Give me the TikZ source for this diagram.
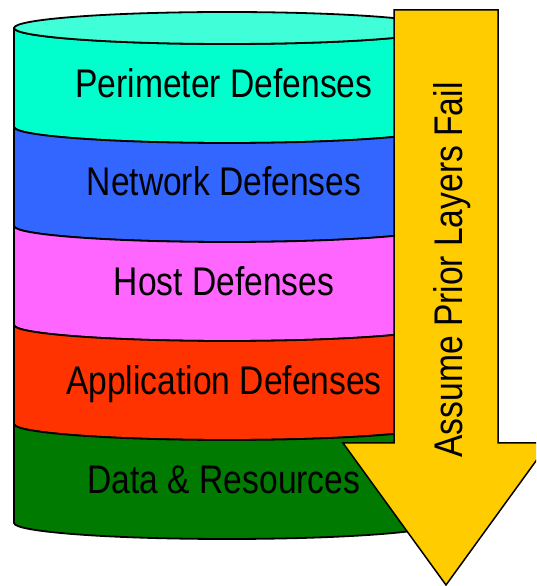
\documentclass[tikz,border=0pt]{standalone}
\usepackage{fontspec}
\setmainfont{Liberation Sans}[FakeStretch=0.84]
\definecolor{topcyan}{RGB}{64,255,216}
\definecolor{perimcyan}{RGB}{0,255,204}
\definecolor{netblue}{RGB}{51,102,255}
\definecolor{hostpink}{RGB}{255,102,255}
\definecolor{appred}{RGB}{255,51,0}
\definecolor{datagreen}{RGB}{0,122,0}
\definecolor{failyellow}{RGB}{255,204,0}
\begin{document}
\begin{tikzpicture}[x=1pt,y=1pt,
  layer/.style={draw=black,line width=1.8pt,line join=round},
  label/.style={font=\fontsize{40}{48}\selectfont,anchor=base}]
\useasboundingbox (0,0) rectangle (536,586);
\clip (0,0) rectangle (536,586);
% the five layers of the cylinder, top to bottom
\draw[layer,fill=perimcyan] (14,558) -- (14,459) arc (180:360:213 and 16) -- (440,558) arc (0:-180:213 and 16) -- cycle;
\draw[layer,fill=netblue] (14,459) -- (14,360) arc (180:360:213 and 16) -- (440,459) arc (0:-180:213 and 16) -- cycle;
\draw[layer,fill=hostpink] (14,360) -- (14,261) arc (180:360:213 and 16) -- (440,360) arc (0:-180:213 and 16) -- cycle;
\draw[layer,fill=appred] (14,261) -- (14,162) arc (180:360:213 and 16) -- (440,261) arc (0:-180:213 and 16) -- cycle;
\draw[layer,fill=datagreen] (14,162) -- (14,63) arc (180:360:213 and 16) -- (440,162) arc (0:-180:213 and 16) -- cycle;
% lid
\draw[layer,fill=topcyan] (227,558) ellipse (213 and 16);
\node[label] (perimeter) at (224,488) {Perimeter Defenses};
\node[label] (network) at (224,390) {Network Defenses};
\node[label] (host) at (224,290) {Host Defenses};
\node[label] (application) at (224,191) {Application Defenses};
\node[label] (data) at (224,92) {Data \& Resources};
% the big arrow down the side
\draw[line width=1.5pt,line join=miter,fill=failyellow] (394,576) -- (498,576) -- (498,143) -- (549,143) -- (446,1) -- (343,143) -- (394,143) -- cycle;
\node[label,rotate=90] (assume) at (462,316) {Assume Prior Layers Fail};
\end{tikzpicture}
\end{document}
